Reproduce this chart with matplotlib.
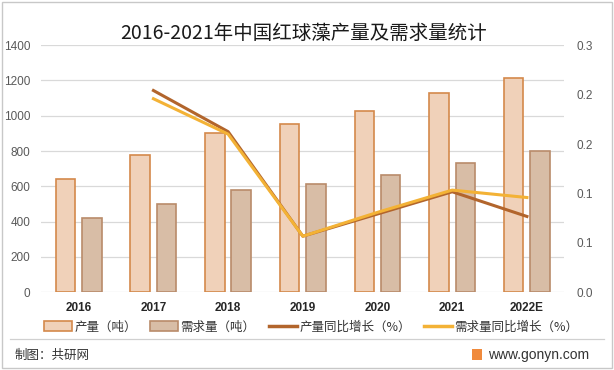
import numpy as np
import matplotlib
matplotlib.use('Agg')
import matplotlib.pyplot as plt
from matplotlib.lines import Line2D
from matplotlib.patches import Rectangle
from matplotlib.ticker import FuncFormatter

plt.rcParams['font.family'] = ['Noto Sans CJK SC', 'DejaVu Sans']

years = ['2016', '2017', '2018', '2019', '2020', '2021', '2022E']
production = [640, 776, 900, 952, 1026, 1128, 1213]
demand = [420, 500, 578, 612, 663, 731, 800]
prod_growth = [None, 0.245, 0.195, 0.068, 0.095, 0.122, 0.092]
demand_growth = [None, 0.235, 0.192, 0.068, 0.097, 0.124, 0.115]

prod_fill, prod_edge = '#F0D1B9', '#D4894B'
dem_fill, dem_edge = '#D8BDA6', '#B98B6A'
brown, yellow = '#B2652C', '#F3B236'

fig = plt.figure(figsize=(6.14, 3.70), dpi=100)
ax = fig.add_axes([0.0674, 0.2103, 0.8516, 0.6675])
ax2 = ax.twinx()

x = np.arange(len(years))
w = 0.262
ax.bar(x - 0.177, production, w, color=prod_fill, edgecolor=prod_edge, linewidth=1.2, zorder=2)
ax.bar(x + 0.175, demand, w, color=dem_fill, edgecolor=dem_edge, linewidth=1.2, zorder=2)

ax.set_xlim(-0.5, len(years) - 0.5)
ax.set_ylim(0, 1400)
ax.set_yticks(range(0, 1401, 200))
ax.yaxis.grid(True, color='#D9D9D9', linewidth=0.9, zorder=0)
ax.set_axisbelow(True)
ax.set_xticks(x)
ax.set_xticklabels(years, fontweight='bold', fontsize=8.5, color='#262626',
                   family=['Liberation Sans', 'DejaVu Sans'])
ax.tick_params(axis='x', length=0, pad=7)
ax.tick_params(axis='y', length=0, labelsize=8.5, labelcolor='#595959', pad=8)
for lab in ax.get_yticklabels():
    lab.set_family(['Liberation Sans', 'DejaVu Sans'])
for s in ax.spines.values():
    s.set_visible(False)

lx = x[1:]
ax2.plot(lx, prod_growth[1:], color=brown, linewidth=2.2, zorder=3)
ax2.plot(lx, demand_growth[1:], color=yellow, linewidth=2.2, zorder=4)
ax2.set_ylim(0, 0.3)
ax2.set_yticks(np.linspace(0, 0.3, 6))
ax2.yaxis.set_major_formatter(FuncFormatter(lambda v, p: f'{v:.1f}'))
ax2.tick_params(axis='y', length=0, labelsize=8.5, labelcolor='#595959', pad=9)
for lab in ax2.get_yticklabels():
    lab.set_family(['Liberation Sans', 'DejaVu Sans'])
for s in ax2.spines.values():
    s.set_visible(False)

fig.text(0.494, 0.91, '2016-2021年中国红球藻产量及需求量统计', ha='center', va='center',
         fontsize=14, color='#1a1a1a')

handles = [
    Rectangle((0, 0), 1, 1, facecolor=prod_fill, edgecolor=prod_edge, linewidth=1.2),
    Rectangle((0, 0), 1, 1, facecolor=dem_fill, edgecolor=dem_edge, linewidth=1.2),
    Line2D([], [], color=brown, linewidth=2.5),
    Line2D([], [], color=yellow, linewidth=2.5),
]
labels = ['产量（吨）', '需求量（吨）', '产量同比增长（%）', '需求量同比增长（%）']
fig.legend(handles, labels, loc='center', bbox_to_anchor=(0.507, 0.116), ncol=4,
           frameon=False, fontsize=9, handlelength=2.2, handleheight=0.9,
           columnspacing=1.1, handletextpad=0.2, labelcolor='#333333')

# frame and footer
fig.add_artist(Rectangle((0.004, 0.006), 0.992, 0.988, transform=fig.transFigure,
                         fill=False, edgecolor='#C8C8C8', linewidth=1.0))
fig.add_artist(Line2D([0.016, 0.984], [0.084, 0.084], transform=fig.transFigure,
                      color='#D0D0D0', linewidth=0.9))
fig.text(0.024, 0.04, '制图：共研网', ha='left', va='center', fontsize=9, color='#333333')
fig.add_artist(Rectangle((0.768, 0.027), 0.017, 0.03, transform=fig.transFigure,
                         facecolor='#F08A3C', edgecolor='none'))
fig.text(0.795, 0.04, 'www.gonyn.com', ha='left', va='center', fontsize=10, color='#333333',
         family=['Liberation Sans', 'DejaVu Sans'])

fig.savefig('out.png', dpi=100)
